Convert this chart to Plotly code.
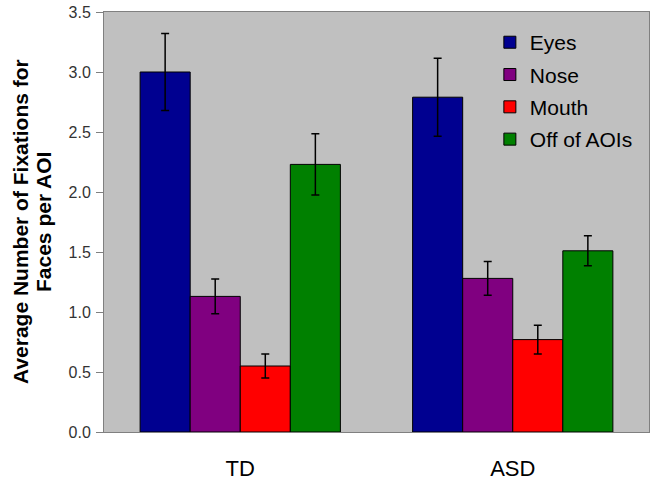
import plotly.graph_objects as go

groups = ["TD", "ASD"]
series = ["Eyes", "Nose", "Mouth", "Off of AOIs"]
means = {
    "Eyes": [3.00, 2.79],
    "Nose": [1.13, 1.28],
    "Mouth": [0.55, 0.77],
    "Off of AOIs": [2.23, 1.51],
}
errors = {
    "Eyes": [0.32, 0.325],
    "Nose": [0.145, 0.14],
    "Mouth": [0.10, 0.12],
    "Off of AOIs": [0.255, 0.125],
}
colors = {
    "Eyes": "#000090",
    "Nose": "#800080",
    "Mouth": "#FF0000",
    "Off of AOIs": "#008000",
}
y_title_lines = ["Average Number of Fixations for", "Faces per AOI"]

fig = go.Figure()
for s in series:
    fig.add_trace(go.Bar(
        x=groups, y=means[s], name=s,
        legendgroup=s,
        marker=dict(color=colors[s], line=dict(color="black", width=1)),
        error_y=dict(type="data", array=errors[s], color="black", thickness=1.5, width=4),
    ))

L, R, T, B = 104, 8, 12, 50
plot_w = 657 - L - R

for i, (line, px) in enumerate(zip(y_title_lines, [20, 43])):
    fig.add_annotation(
        text=f"<b>{line}</b>", xref="paper", yref="paper",
        x=(px - L) / plot_w, y=0.5, xanchor="center", yanchor="middle",
        textangle=-90, showarrow=False,
        font=dict(size=21, color="black", family="Liberation Sans, Arial"),
    )

fig.update_layout(
    width=657, height=482,
    margin=dict(l=L, r=R, t=T, b=B),
    paper_bgcolor="white",
    plot_bgcolor="#C0C0C0",
    barmode="group",
    bargap=0.265,
    bargroupgap=0,
    font=dict(family="Liberation Sans, Arial", color="black"),
    showlegend=True,
    legend=dict(
        x=0.708, y=0.976, xanchor="left", yanchor="top",
        bgcolor="rgba(0,0,0,0)",
        font=dict(size=21, color="black"),
        tracegroupgap=2,
        itemwidth=30,
    ),
    xaxis=dict(
        automargin=False,
        showline=True, linecolor="#808080", linewidth=1, mirror=True,
        ticks="", tickfont=dict(size=22, color="black"),
        ticklabelstandoff=17,
    ),
    yaxis=dict(
        automargin=False,
        range=[0, 3.5], dtick=0.5, tickformat=".1f",
        showgrid=False, zeroline=False,
        showline=True, linecolor="#808080", linewidth=1, mirror=True,
        ticks="outside", ticklen=7, tickcolor="#808080",
        tickfont=dict(size=16, color="#333333"),
        ticklabelstandoff=2,
    ),
)

fig.write_html("out.html", config={"displayModeBar": False},
               post_script="document.body.style.margin='0';")
